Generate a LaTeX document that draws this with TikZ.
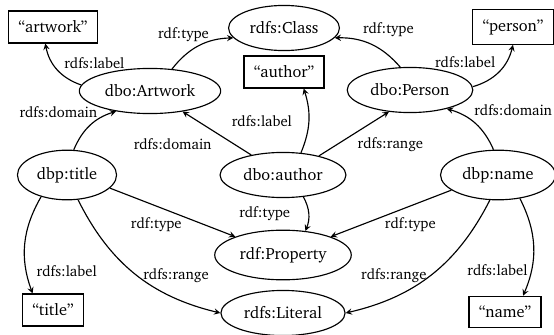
\documentclass[tikz,border=0pt]{standalone}
\usepackage[T1]{fontenc}
\usepackage{charter}
\usetikzlibrary{arrows.meta,shapes.geometric}
\tikzset{>=stealth}
\tikzset{
  res/.style={draw, ellipse, inner xsep=3pt, inner ysep=6pt},
  lit/.style={draw, rectangle, inner xsep=6pt, inner ysep=6pt},
  lbl/.style={font=\small, inner sep=2pt}
}

\begin{document}
\begin{tikzpicture}[x=0.613pt, y=-0.613pt, line width=0.7pt]
  \useasboundingbox (0, 0) rectangle (554, 335);

  \node[res] (class) at (284, 28) {rdfs:Class};
  \node[lit] (artwork) at (53, 27) {``artwork''};
  \node[lit] (person) at (513, 27) {``person''};
  \node[lit] (authorlit) at (284, 72) {``author''};
  \node[res] (artworkc) at (150, 91) {dbo:Artwork};
  \node[res] (personc) at (410, 90) {dbo:Person};
  \node[res] (title) at (67, 175) {dbp:title};
  \node[res] (author) at (283, 175) {dbo:author};
  \node[res] (name) at (498, 175) {dbp:name};
  \node[res] (prop) at (283, 255) {rdf:Property};
  \node[lit] (titlelit) at (53, 310) {``title''};
  \node[res] (literal) at (283, 313) {rdfs:Literal};
  \node[lit] (namelit) at (505, 312) {``name''};

  \draw[->] (artworkc.45) to[bend left=25]
    node[lbl, pos=.72, anchor=south east, yshift=-3pt] {rdf:type} (class.191);
  \draw[->] (artworkc.175) to[bend left=30]
    node[lbl, pos=.65, right=5pt] {rdfs:label} (artwork.-115);
  \draw[->] (title.75) to[bend left=25]
    node[lbl, pos=.6, above left, xshift=4pt] {rdfs:domain} (artworkc.211);
  \draw[->] (author) --
    node[lbl, pos=.5, below left=1pt] {rdfs:domain} (artworkc);
  \draw[->] (author.51) to[bend right=20]
    node[lbl, pos=.5, left=8pt] {rdfs:label} (authorlit.-40);
  \draw[->] (author.28) --
    node[lbl, pos=.5, below right] {rdfs:range} (personc.226);
  \draw[->] (personc.113) to[bend right=25]
    node[lbl, pos=.68, above right] {rdf:type} (class.-11);
  \draw[->] (personc.3) to[bend right=30]
    node[lbl, pos=.5, above left] {rdfs:label} (person.south);
  \draw[->] (name.100) to[bend right=25]
    node[lbl, pos=.6, above right] {rdfs:domain} (personc.-27);

  \draw[->] (title.-17) --
    node[lbl, pos=.37, below=5pt] {rdf:type} (prop.159);
  \draw[->] (author.-47) to[bend left=25]
    node[lbl, pos=.5, left=9pt] {rdf:type} (prop.47);
  \draw[->] (name.198) --
    node[lbl, pos=.34, below=5pt] {rdf:type} (prop.21);

  \draw[->] (title.220) to[bend right=25]
    node[lbl, pos=.78, right=4pt] {rdfs:label} (titlelit.141);
  \draw[->] (title.-66) to[bend right=25]
    node[lbl, pos=.62, above right=0pt, xshift=-8pt] {rdfs:range} (literal.west);
  \draw[->] (name.-108) to[bend left=25]
    node[lbl, pos=.62, above left=0pt, xshift=10pt] {rdfs:range} (literal.east);
  \draw[->] (name.-47) to[bend left=25]
    node[lbl, pos=.75, left] {rdfs:label} (namelit.42);
\end{tikzpicture}
\end{document}
